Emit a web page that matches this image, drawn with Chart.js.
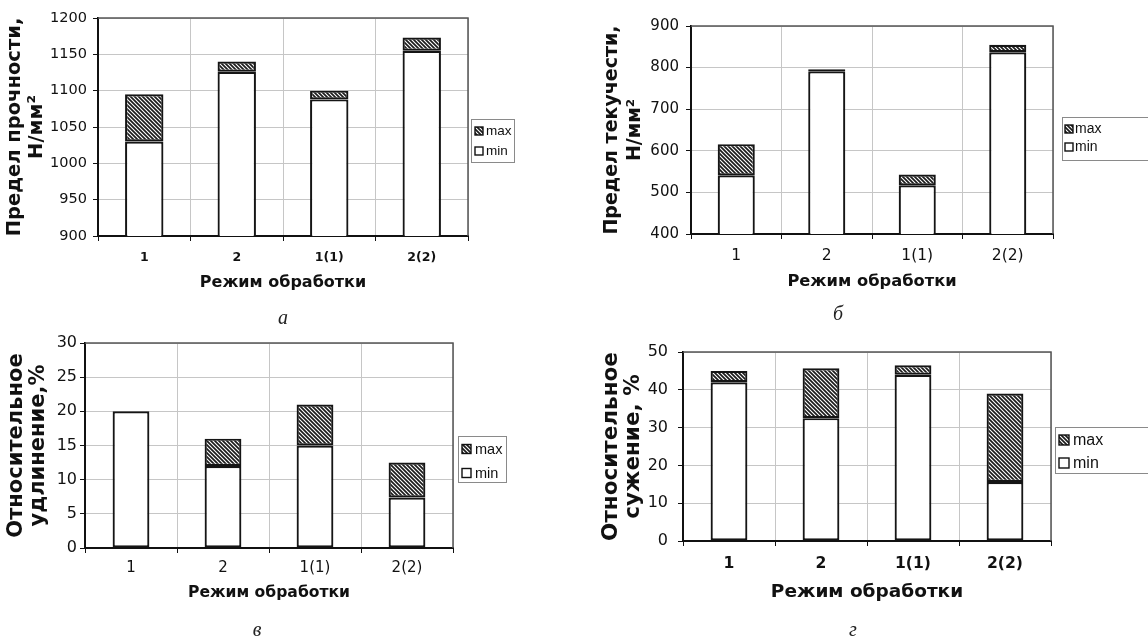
<!DOCTYPE html>
<html><head><meta charset="utf-8">
<script src="https://cdn.jsdelivr.net/npm/chart.js@4.4.1/dist/chart.umd.min.js"></script>
<style>
html,body{margin:0;padding:0;background:#fff;}
body{width:1148px;height:640px;overflow:hidden;position:relative;}
canvas{position:absolute;display:block;}
.cap{position:absolute;font-family:'Liberation Serif','DejaVu Serif',serif;font-style:italic;font-size:20px;color:#222;transform:translate(-50%,-50%);line-height:1;}
</style></head><body>
<canvas id="ca" width="580" height="320" style="left:0;top:0"></canvas>
<canvas id="cb" width="568" height="320" style="left:580px;top:0"></canvas>
<canvas id="cc" width="580" height="320" style="left:0;top:320px"></canvas>
<canvas id="cd" width="568" height="320" style="left:580px;top:320px"></canvas>
<div class="cap" style="left:283px;top:317px">а</div>
<div class="cap" style="left:838px;top:313px">б</div>
<div class="cap" style="left:257px;top:629px">в</div>
<div class="cap" style="left:853px;top:629px">г</div>
<script>
// ---- data ----
const categories = ['1', '2', '1(1)', '2(2)'];
const seriesNames = ['min', 'max'];
const xTitle = 'Режим обработки';

const strengthMin = [1030, 1126, 1088, 1155];
const strengthMax = [1095, 1140, 1100, 1173];
const strengthTicks = [900, 950, 1000, 1050, 1100, 1150, 1200];

const yieldMin = [541, 791, 517, 837];
const yieldMax = [616, 796, 543, 855];
const yieldTicks = [400, 500, 600, 700, 800, 900];

const elongMin = [20, 12, 15, 7.4];
const elongMax = [20, 16, 21, 12.5];
const elongTicks = [0, 5, 10, 15, 20, 25, 30];

const narrowMin = [42, 32.5, 44, 15.6];
const narrowMax = [45, 45.7, 46.5, 39];
const narrowTicks = [0, 10, 20, 30, 40, 50];

// ---- styles ----
function makeHatch() {
  const c = document.createElement('canvas');
  c.width = 4; c.height = 4;
  const g = c.getContext('2d');
  g.fillStyle = '#1c1c1c'; g.fillRect(0, 0, 4, 4);
  g.strokeStyle = '#ffffff'; g.lineWidth = 1.1;
  g.beginPath();
  g.moveTo(-1, -1); g.lineTo(5, 5);
  g.moveTo(-1, 3); g.lineTo(1, 5);
  g.moveTo(3, -1); g.lineTo(5, 1);
  g.stroke();
  return g.createPattern(c, 'repeat');
}
const hatch = makeHatch();
const FONT = "'DejaVu Sans', Verdana, sans-serif";
const LFONT = "'Liberation Sans', Arial, sans-serif";

const boxLegend = {
  id: 'boxLegend',
  afterDraw(chart, args, o) {
    const ctx = chart.ctx;
    ctx.save();
    ctx.fillStyle = '#fff';
    ctx.fillRect(o.x, o.y, o.w, o.h);
    ctx.strokeStyle = '#8a8a8a'; ctx.lineWidth = 1;
    ctx.strokeRect(o.x + 0.5, o.y + 0.5, o.w, o.h);
    const ds = chart.data.datasets.slice().reverse();
    ds.forEach((d, i) => {
      const cy = o.y + o.first + i * o.gap;
      ctx.fillStyle = d.backgroundColor;
      ctx.fillRect(o.sx, cy - o.s / 2, o.s, o.s);
      ctx.strokeStyle = '#111'; ctx.lineWidth = 1.4;
      ctx.strokeRect(o.sx, cy - o.s / 2, o.s, o.s);
      ctx.fillStyle = '#111';
      ctx.font = o.font;
      ctx.textBaseline = 'middle';
      ctx.fillText(d.label, o.tx, cy + 0.5);
    });
    ctx.restore();
  }
};
const frame = {
  id: 'frame',
  beforeDatasetsDraw(chart) {
    const a = chart.chartArea, ctx = chart.ctx;
    ctx.save();
    ctx.strokeStyle = '#555'; ctx.lineWidth = 1.5;
    ctx.beginPath();
    ctx.moveTo(a.left, a.top); ctx.lineTo(a.right, a.top); ctx.lineTo(a.right, a.bottom);
    ctx.stroke();
    ctx.restore();
  }
};

function makeChart(id, o) {
  const canvas = document.getElementById(id);
  const W = canvas.width, H = canvas.height;
  const barStyle = { borderColor: '#151515', borderWidth: 2.2, borderSkipped: false, barPercentage: o.bp, categoryPercentage: 1 };
  return new Chart(canvas, {
    type: 'bar',
    data: {
      labels: categories,
      datasets: [
        Object.assign({ label: seriesNames[0], data: o.min, backgroundColor: '#fff' }, barStyle),
        Object.assign({ label: seriesNames[1], data: o.min.map((m, i) => [m, o.max[i]]), backgroundColor: hatch }, barStyle)
      ]
    },
    options: {
      responsive: false, animation: false, events: [],
      layout: { padding: { left: 0, top: o.area.t, right: W - o.area.r, bottom: 0 } },
      plugins: { legend: { display: false }, tooltip: { enabled: false }, boxLegend: o.legend },
      scales: {
        x: {
          stacked: true,
          grid: { color: '#c6c6c6', offset: true, tickColor: '#111', tickLength: 5, lineWidth: 1 },
          border: { color: '#111', width: 2 },
          ticks: { color: '#111', padding: o.xPad, font: { family: FONT, size: o.xSize, weight: o.xBold ? 'bold' : 'normal' } },
          title: { display: true, text: xTitle, color: '#111',
                   font: { family: FONT, size: o.xtSize, weight: 'bold' },
                   padding: { top: 0, bottom: H - o.xtY - o.xtSize * 0.6 } },
          afterFit(s) { s.height = H - o.area.b; }
        },
        y: {
          min: o.ticks[0], max: o.ticks[o.ticks.length - 1],
          afterBuildTicks(s) { s.ticks = o.ticks.map(v => ({ value: v })); },
          grid: { color: '#c6c6c6', tickColor: '#111', tickLength: 5, lineWidth: 1 },
          border: { color: '#111', width: 2 },
          ticks: { color: '#111', padding: o.yPad, font: { family: FONT, size: o.ySize },
                   callback: v => String(v) },
          title: { display: true, text: o.yTitle, color: '#111',
                   font: { family: FONT, size: o.ytSize, weight: 'bold', lineHeight: o.ytLh + 'px' },
                   padding: { top: o.ytX - o.ytLh / 2, bottom: 0 } },
          afterFit(s) { s.width = o.area.l; }
        }
      }
    },
    plugins: [frame, boxLegend]
  });
}

makeChart('ca', {
  min: strengthMin, max: strengthMax, ticks: strengthTicks, bp: 0.415,
  area: { l: 98, t: 18, r: 468, b: 236 },
  xSize: 12.5, xBold: true, xPad: 9, xtSize: 16, xtY: 283,
  ySize: 14.5, yPad: 6, yTitle: ['Предел прочности,', 'Н/мм²'], ytSize: 19.5, ytLh: 22, ytX: 15,
  legend: { x: 471, y: 119, w: 43, h: 43, first: 12, gap: 20, sx: 475, s: 8, tx: 486, font: "13.5px " + LFONT }
});
makeChart('cb', {
  min: yieldMin, max: yieldMax, ticks: yieldTicks, bp: 0.41,
  area: { l: 111, t: 26, r: 473, b: 234 },
  xSize: 15.5, xBold: false, xPad: 8, xtSize: 16.3, xtY: 282,
  ySize: 15, yPad: 7, yTitle: ['Предел текучести,', 'Н/мм²'], ytSize: 19, ytLh: 23, ytX: 32,
  legend: { x: 482, y: 117, w: 100, h: 43, first: 12, gap: 18, sx: 485, s: 8, tx: 495, font: "14px " + LFONT }
});
makeChart('cc', {
  min: elongMin, max: elongMax, ticks: elongTicks, bp: 0.4,
  area: { l: 85, t: 23, r: 453, b: 228 },
  xSize: 15, xBold: false, xPad: 6, xtSize: 15.6, xtY: 273,
  ySize: 16, yPad: 3, yTitle: ['Относительное', 'удлинение,%'], ytSize: 21, ytLh: 22, ytX: 17,
  legend: { x: 458, y: 116, w: 48, h: 46, first: 13, gap: 24, sx: 462, s: 9, tx: 475, font: "14.5px " + LFONT }
});
makeChart('cd', {
  min: narrowMin, max: narrowMax, ticks: narrowTicks, bp: 0.4,
  area: { l: 103, t: 32, r: 471, b: 221 },
  xSize: 15.6, xBold: true, xPad: 9, xtSize: 18.5, xtY: 272,
  ySize: 16, yPad: 10, yTitle: ['Относительное', 'сужение, %'], ytSize: 21.5, ytLh: 22, ytX: 31,
  legend: { x: 475, y: 107, w: 100, h: 46, first: 13, gap: 23, sx: 479, s: 10, tx: 493, font: "16px " + LFONT }
});
</script>
</body></html>
